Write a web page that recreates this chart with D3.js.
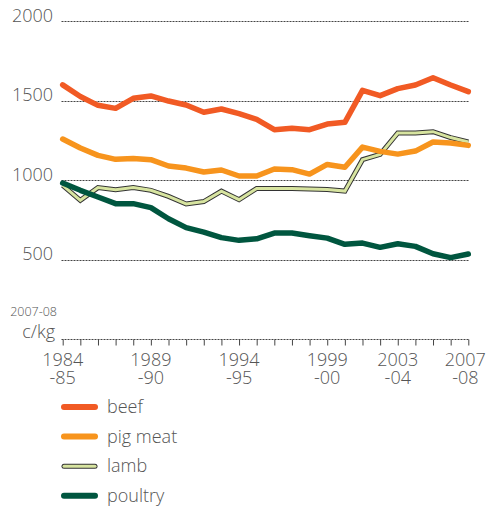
<!DOCTYPE html>
<html>
<head>
<meta charset="utf-8">
<script src="https://cdn.jsdelivr.net/npm/d3@7"></script>
<style>
  body { margin: 0; background: #fff; }
  text { font-family: "Open Sans", "Noto Sans", sans-serif; font-weight: 300; fill: #555; }
</style>
</head>
<body>
<div id="chart"></div>
<script>
// Real meat prices, 2007-08 c/kg
const years = d3.range(1984, 2008);
const beef = [1600, 1527, 1471, 1452, 1515, 1530, 1498, 1473, 1427, 1448, 1419, 1383,
  1318, 1326, 1318, 1353, 1364, 1565, 1532, 1576, 1599, 1645, 1599, 1557];
const pigMeat = [1259, 1202, 1156, 1131, 1137, 1129, 1089, 1076, 1051, 1064, 1026, 1026,
  1070, 1066, 1038, 1099, 1081, 1208, 1181, 1164, 1183, 1240, 1234, 1219];
const lamb = [967, 873, 953, 940, 953, 936, 898, 850, 865, 931, 877, 948,
  948, 948, 945, 941, 931, 1129, 1162, 1297, 1297, 1305, 1268, 1240];
const poultry = [982, 936, 894, 852, 852, 827, 757, 701, 673, 638, 621, 631,
  667, 667, 650, 635, 596, 604, 577, 600, 583, 537, 512, 535];
const yTicks = [500, 1000, 1500, 2000];
const xLabels = [[1984, '1984', '-85'], [1989, '1989', '-90'], [1994, '1994', '-95'],
  [1999, '1999', '-00'], [2003, '2003', '-04'], [2007, '2007', '-08']];

const series = [
  { name: 'beef', values: beef, color: '#f15a24' },
  { name: 'pig meat', values: pigMeat, color: '#f7941d' },
  { name: 'lamb', values: lamb, color: '#d7e4a0', edge: '#333' },
  { name: 'poultry', values: poultry, color: '#00563f' }
];

const w = 487, h = 507;
const svg = d3.select('#chart').append('svg').attr('width', w).attr('height', h);

const x = d3.scaleLinear().domain([1984, 2007]).range([62.7, 468.3]);
const y = d3.scaleLinear().domain([0, 2000]).range([339, 21.3]);

// gridlines
svg.append('g').selectAll('line').data(yTicks).join('line')
  .attr('x1', 61.5).attr('x2', 469.5)
  .attr('y1', d => Math.round(y(d)) + 0.5).attr('y2', d => Math.round(y(d)) + 0.5)
  .attr('stroke', '#444').attr('stroke-width', 1).attr('stroke-dasharray', '2,1');

svg.append('g').selectAll('text').data(yTicks).join('text')
  .attr('x', 53).attr('y', d => y(d) + 0.5)
  .attr('text-anchor', 'end').attr('font-size', 18)
  .text(d => d);

// x axis
const xAxis = d3.axisBottom(x).tickValues(years).tickSize(6).tickFormat('');
const gx = svg.append('g').attr('transform', 'translate(0,339.5)').call(xAxis);
gx.select('.domain').attr('stroke', '#444').attr('stroke-dasharray', '2,1')
  .attr('d', 'M61.5,0H469.5');
gx.selectAll('.tick line').attr('stroke', '#444');

// two-line year labels as one text each
const lab = svg.append('g').selectAll('text').data(xLabels).join('text')
  .attr('transform', d => `translate(${x(d[0]) - (d[0] === 2007 ? 3 : 0)},366)`)
  .attr('text-anchor', 'middle').attr('font-size', 18);
lab.append('tspan').attr('x', 0).attr('y', 0).text(d => d[1]);
lab.append('tspan').attr('x', 0).attr('y', 18).text(d => d[2]);

svg.append('text').attr('x', 57).attr('y', 316).attr('text-anchor', 'end')
  .attr('font-size', 12.5).text('2007-08');
svg.append('text').attr('x', 55).attr('y', 338).attr('text-anchor', 'end')
  .attr('font-size', 18).text('c/kg');

// lines
const line = d3.line().x((d, i) => x(years[i])).y(d => y(d));
const order = [series[2], series[1], series[0], series[3]];
order.forEach(s => {
  if (s.edge) {
    svg.append('path').datum(s.values).attr('d', line)
      .attr('fill', 'none').attr('stroke', s.edge).attr('stroke-width', 5)
      .attr('stroke-linejoin', 'miter');
    svg.append('path').datum(s.values).attr('d', line)
      .attr('fill', 'none').attr('stroke', s.color).attr('stroke-width', 3)
      .attr('stroke-linejoin', 'miter');
  } else {
    svg.append('path').datum(s.values).attr('d', line)
      .attr('fill', 'none').attr('stroke', s.color).attr('stroke-width', 5.5)
      .attr('stroke-linejoin', 'round').attr('stroke-linecap', 'round');
  }
});

// legend
const legend = svg.append('g').selectAll('g').data(series).join('g')
  .attr('transform', (d, i) => `translate(0,${407 + i * 29.6})`);
legend.each(function (s) {
  const g = d3.select(this);
  if (s.edge) {
    g.append('line').attr('x1', 64).attr('x2', 95).attr('stroke', s.edge)
      .attr('stroke-width', 5).attr('stroke-linecap', 'round');
    g.append('line').attr('x1', 64).attr('x2', 95).attr('stroke', s.color)
      .attr('stroke-width', 3).attr('stroke-linecap', 'round');
  } else {
    g.append('line').attr('x1', 64).attr('x2', 95).attr('stroke', s.color)
      .attr('stroke-width', 6).attr('stroke-linecap', 'round');
  }
  g.append('text').attr('x', 107).attr('y', 6).attr('font-size', 18).text(s.name);
});
</script>
</body>
</html>
